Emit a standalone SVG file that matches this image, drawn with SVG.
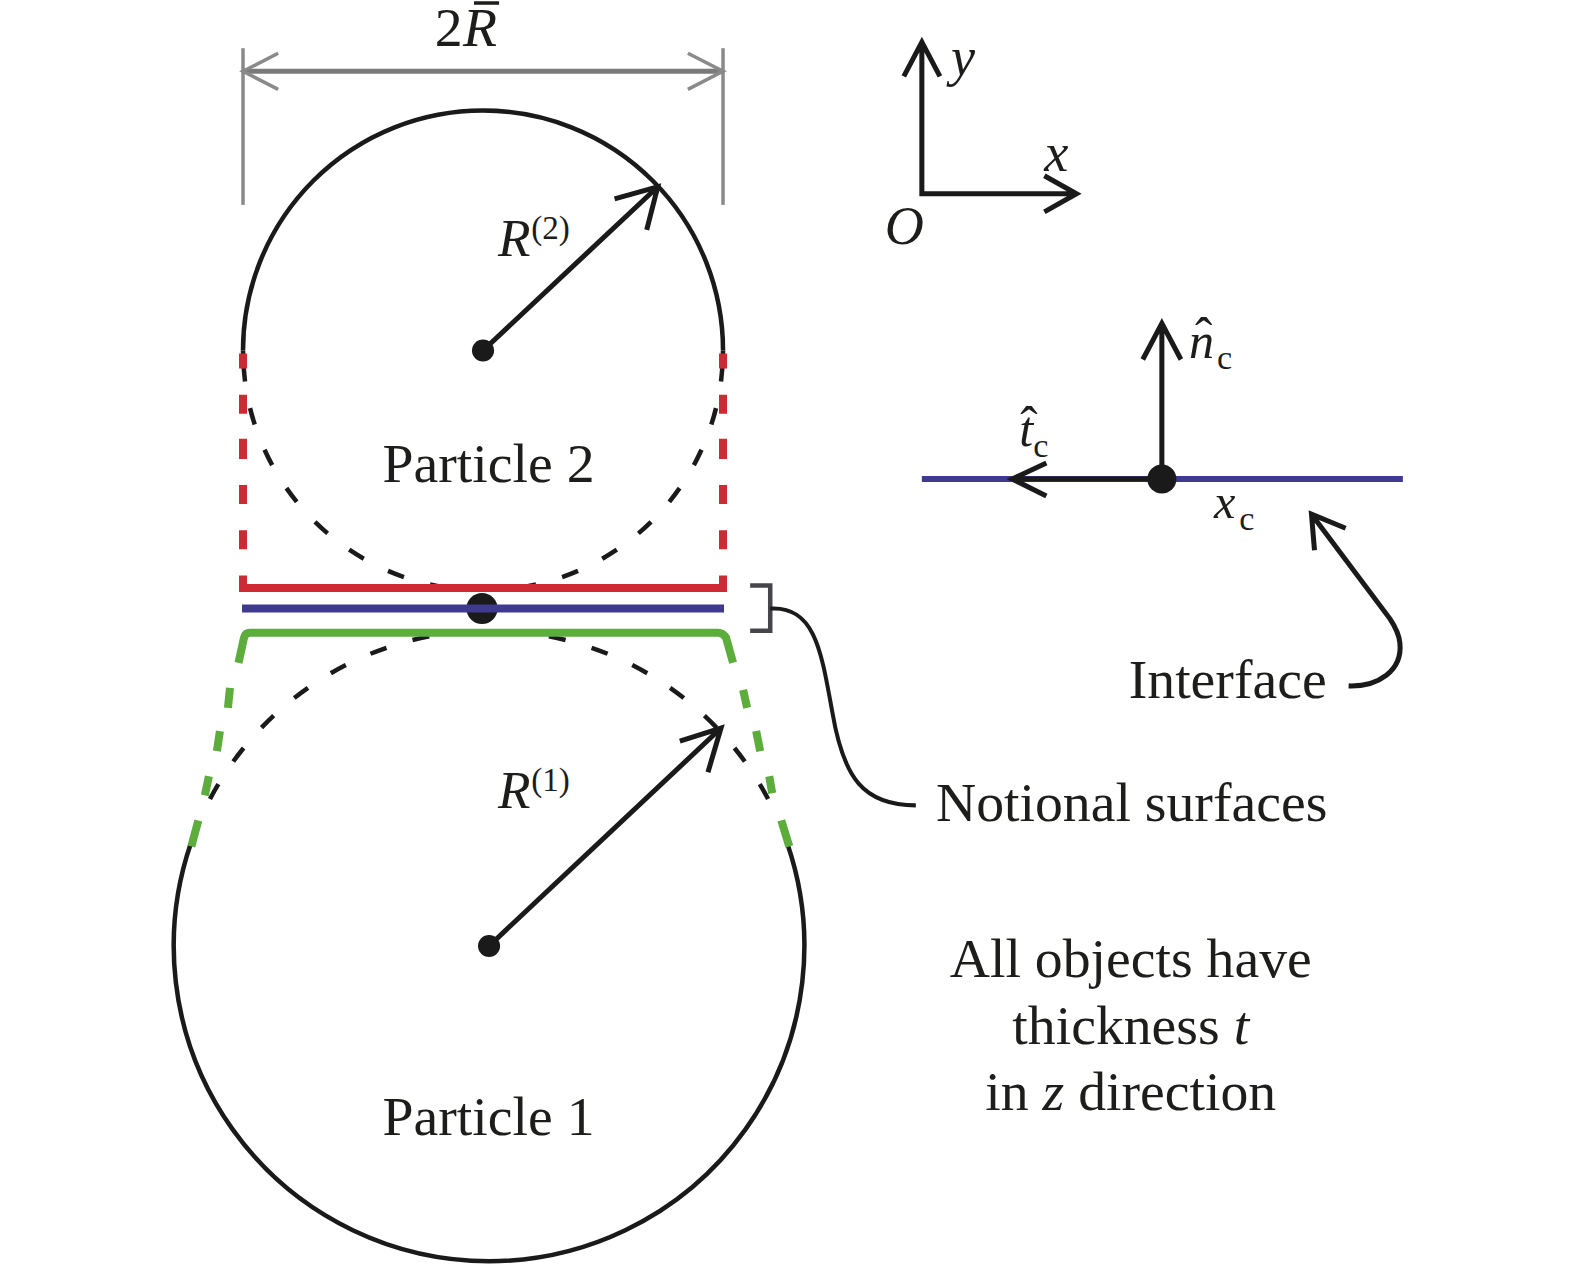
<svg xmlns="http://www.w3.org/2000/svg" width="1575" height="1280" viewBox="0 0 1575 1280">
<style>
text{font-family:"Liberation Serif","Times New Roman",serif;fill:#1d1d1b;font-size:55.500px}
.i{font-style:italic}
.m{text-anchor:middle}
.sup{font-size:33px}
.sub{font-size:34px}
.v{font-size:54px}
.hat{font-size:52px}
path,line{fill:none}
.k{stroke:#1a1a1a;stroke-width:4.500}
.a{stroke:#1a1a1a;stroke-width:5;stroke-linejoin:miter}
.g{stroke:#7a7a7a;stroke-width:5}
.gh{stroke:#8a8a8a;stroke-width:3.500}
.red{stroke:#cf2a33;stroke-width:8}
.grn{stroke:#5cad3c;stroke-width:8}
.blu{stroke:#3d3a8f;stroke-width:8}
.d1{stroke-dasharray:31 27 17 27 17 27 17 27 17 27 17 27 17 27 17 100}
.d2{stroke-dasharray:0 60 17 27 17 27 17 27 17 27 17 27 17 27 17 100}
</style>
<rect width="1575" height="1280" fill="#fff"/>
<g id="diagram" transform="scale(1.0042)">
<g id="particle-2">
<path class="k" d="M242 349A239 239 0 0 1 720 349"/>
<path class="k d1" d="M720 349A239 239 0 0 1 481 588"/>
<path class="k d1" d="M242 349A239 239 0 0 0 481 588"/>
<circle cx="481" cy="349" r="11" fill="#1a1a1a"/>
<text x="381" y="480">Particle 2</text>
</g>
<g id="particle-1">
<path class="k" d="M190 840A314 314 0 1 0 784 840"/>
<path class="k d2" d="M487 628A314 314 0 0 1 784 840"/>
<path class="k d2" d="M487 628A314 314 0 0 0 190 840"/>
<circle cx="487" cy="942" r="11" fill="#1a1a1a"/>
<text x="381" y="1130">Particle 1</text>
</g>
<g id="notional-surface-red">
<path class="red" d="M242 352V367M242 393V412M242 437V457M242 483V502M242 528V547M242 573V585.500H720V573M720 528V547M720 483V502M720 437V457M720 393V412M720 352V367"/>
</g>
<g id="notional-surface-green">
<path class="grn" d="M237.500 660L243 635Q244 630 249 630H715Q720 630 723 635L730 660M229 685L227 705M219 728L216 748M208 773L204 792M197.500 817L190.500 843M740 687L744 705M753 728L757 748M766 773L769 790M778 817L786 843"/>
</g>
<g id="interface-left">
<circle cx="480" cy="606" r="15.500" fill="#1a1a1a"/>
<line class="blu" x1="241" y1="606" x2="721" y2="606"/>
</g>
<g id="interface-right">
<line class="blu" x1="918" y1="477" x2="1397" y2="477" style="stroke-width:6"/>
<circle cx="1157" cy="477" r="14.500" fill="#1a1a1a"/>
<text class="i" x="1209" y="516" style="font-size:48px">x</text>
<text class="sub" x="1234" y="528">c</text>
<text class="i" x="1184" y="357" style="font-size:50px">n</text>
<text class="hat" x="1190" y="353">ˆ</text>
<text class="sub" x="1212" y="367">c</text>
<text class="i" x="1015" y="444" style="font-size:50px">t</text>
<text class="hat" x="1016" y="441">ˆ</text>
<text class="sub" x="1029" y="455">c</text>
</g>
<g id="axes">
<text class="i v" x="947" y="75">y</text>
<text class="i v" x="1040" y="170">x</text>
<text class="i v" x="881" y="243">O</text>
</g>
<g id="connectors">
<line class="gh" x1="242" y1="48" x2="242" y2="204"/>
<line class="gh" x1="720" y1="48" x2="720" y2="204"/>
<line class="g" x1="242" y1="71" x2="720" y2="71"/>
<path class="gh" d="M277 53L242 71L277 89M685 53L720 71L685 89"/>
<path class="a" d="M918 42V193H1072M900 76L918 42L936 76M1040 175L1072 193L1040 211"/>
<path class="a" d="M481 349L655 186M612 198L655 186L644 229"/>
<path class="a" d="M487 942L718 725M677 738L718 725L705 769"/>
<path class="a" d="M1157 477V322M1138 358L1157 322L1176 358"/>
<path class="a" d="M1157 477H1008M1042 461L1008 477L1042 494"/>
<path class="a" d="M1343 683C1372 684 1397 668 1394 640C1393 630 1388 622 1384 616L1306 512M1340 526L1306 512L1309 548"/>
<path d="M747 583H767V628H747" style="stroke:#46464a;stroke-width:4.500"/>
<path class="k" d="M767 606C812 603 818 650 829 710C840 775 860 802 912 802" style="stroke-width:4"/>
</g>
<g id="dimension-label">
<text x="433" y="46">2</text>
<text class="i" x="461" y="46">R</text>
<line x1="472" y1="3" x2="497" y2="3" style="stroke:#1d1d1b;stroke-width:3.500"/>
</g>
<g id="radius-labels">
<text class="i" x="496" y="255" style="font-size:53px">R</text>
<text class="sup" x="529" y="238">(2)</text>
<text class="i" x="496" y="805" style="font-size:53px">R</text>
<text class="sup" x="529" y="788">(1)</text>
</g>
<g id="annotations">
<text x="1124" y="695">Interface</text>
<text x="932" y="818">Notional surfaces</text>
<text class="m" x="1126" y="973">All objects have</text>
<text class="m" x="1126" y="1040">thickness <tspan class="i">t</tspan></text>
<text class="m" x="1126" y="1105">in <tspan class="i">z</tspan> direction</text>
</g>
</g>
</svg>
